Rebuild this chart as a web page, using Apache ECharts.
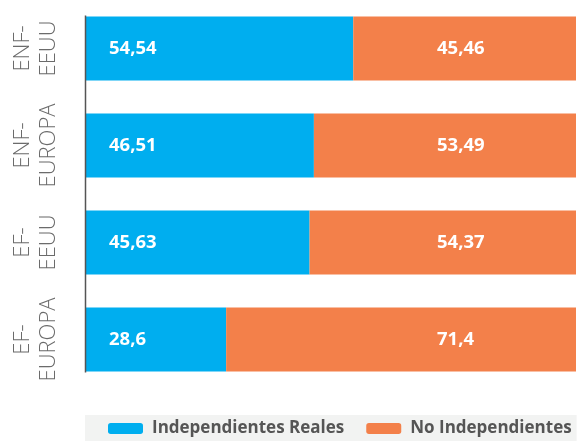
<!DOCTYPE html>
<html><head><meta charset="utf-8">
<script src="https://cdn.jsdelivr.net/npm/echarts@6/dist/echarts.min.js"></script>
<style>html,body{margin:0;padding:0;background:#fff}#c{width:577px;height:441px}</style>
</head><body><div id="c"></div>
<script>
const categories = ['ENF-\nEEUU', 'ENF-\nEUROPA', 'EF-\nEEUU', 'EF-\nEUROPA'];
const independientesReales = [54.54, 46.51, 45.63, 28.6];
const noIndependientes = [45.46, 53.49, 54.37, 71.4];
const seriesNames = ['Independientes Reales', 'No Independientes'];

const GRID_LEFT = 86, GRID_RIGHT = 1, GRID_TOP = 0, GRID_BOTTOM = 53;
const W = 577 - GRID_LEFT - GRID_RIGHT;
const BAR_W = 64;
const ORANGE_LABEL_X = 437;
const fmt = v => String(v).replace('.', ',');

const chart = echarts.init(document.getElementById('c'));
const labelFont = {color:'#fff', fontFamily:'"Open Sans", sans-serif', fontWeight:'bold', fontSize:18.5};
chart.setOption({
  animation:false,
  grid:{left:GRID_LEFT, right:GRID_RIGHT, top:GRID_TOP, bottom:GRID_BOTTOM},
  xAxis:{type:'value', min:0, max:100, show:false},
  yAxis:{type:'category', inverse:true, data:categories,
    axisLine:{show:false}, axisTick:{show:false},
    axisLabel:{interval:0, hideOverlap:false, rotate:90, margin:24, color:'#6b6b6b', fontFamily:'"Open Sans", sans-serif', fontWeight:300, fontSize:22, lineHeight:26}},
  legend:{bottom:0, left:85, itemWidth:35, itemHeight:11, itemGap:22,
    backgroundColor:'#f2f3f2', padding:[5,5,4,23],
    textStyle:{color:'#555', fontFamily:'"Open Sans", sans-serif', fontWeight:'bold', fontSize:17, padding:[0,0,0,4]},
    data:seriesNames},
  series:[
    {name:seriesNames[0], type:'bar', stack:'t', barWidth:BAR_W, itemStyle:{color:'#00aeef'},
     label:{show:true, position:'insideLeft', distance:23, formatter:p=>fmt(p.value), ...labelFont},
     data:independientesReales},
    {name:seriesNames[1], type:'bar', stack:'t', barWidth:BAR_W, itemStyle:{color:'#f3804a'},
     label:{show:true, position:'insideLeft', formatter:p=>fmt(p.value), ...labelFont},
     data:noIndependientes.map((v,i)=>({value:v, label:{distance: ORANGE_LABEL_X - (GRID_LEFT + independientesReales[i]*W/100)}}))}
  ]
});
const yTop = chart.convertToPixel({yAxisIndex:0}, categories[0]) - BAR_W/2 - 1;
const yBot = chart.convertToPixel({yAxisIndex:0}, categories[categories.length-1]) + BAR_W/2 + 1;
const xA = chart.convertToPixel({xAxisIndex:0}, 0) - 0.5;
chart.setOption({graphic:[{type:'line', shape:{x1:xA, y1:yTop, x2:xA, y2:yBot}, style:{stroke:'#555', lineWidth:1.5}, z:10}]});
</script></body></html>
